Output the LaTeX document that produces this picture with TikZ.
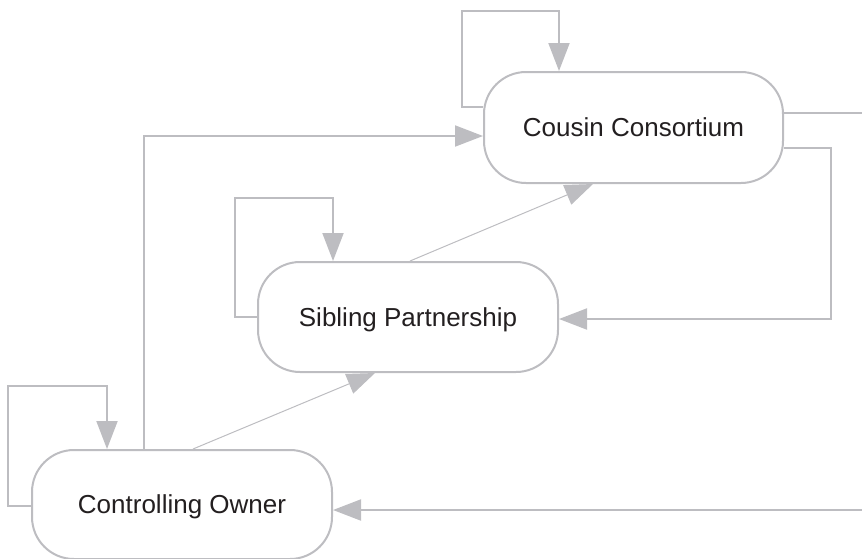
\documentclass[tikz,border=0pt]{standalone}
\usepackage{fontspec}
\setmainfont{Liberation Sans}
\usetikzlibrary{arrows.meta}
\definecolor{edgegray}{RGB}{189,189,193}
\definecolor{inkdark}{RGB}{35,31,32}
\tikzset{
  stagebox/.style={draw=edgegray, line width=2pt, rounded corners=42pt,
    fill=white, inner sep=0pt, text=inkdark,
    text height=18.6pt, text depth=0pt,
    font=\fontsize{26}{31}\selectfont},
  conn/.style={draw=edgegray, line width=2pt,
    -{Triangle[length=28pt,width=21pt]}},
  plainconn/.style={draw=edgegray, line width=2pt},
  thinconn/.style={draw=edgegray, line width=1pt,
    -{Triangle[length=28pt,width=21pt]}}
}
\begin{document}
\begin{tikzpicture}[x=1pt, y=-1pt]
  \useasboundingbox (0,0) rectangle (862,558);

  % stages
  \node[stagebox, minimum width=299pt, minimum height=111pt] (cc) at (633.5,127.5) {Cousin Consortium};
  \node[stagebox, minimum width=300pt, minimum height=110pt] (sp) at (408,317) {Sibling Partnership};
  \node[stagebox, minimum width=300pt, minimum height=109pt] (co) at (182,504.5) {Controlling Owner};

  % loops back into the same stage
  \draw[conn] (cc.west |- 0,107) -- (462,107) -- (462,11) -- (559,11) -- (cc.north -| 559,0);
  \draw[conn] (sp.west |- 0,317) -- (235,317) -- (235,198) -- (333,198) -- (sp.north -| 333,0);
  \draw[conn] (co.west |- 0,506) -- (8,506) -- (8,386) -- (107,386) -- (co.north -| 107,0);

  % moves between stages
  \draw[conn] (co.north -| 144,0) -- (144,136) -- (cc.west |- 0,136);
  \draw[thinconn] (co.north -| 193,0) -- (sp.south -| 375,0);
  \draw[thinconn] (sp.north -| 410,0) -- (cc.south -| 593,0);
  \draw[conn] (cc.east |- 0,148) -- (831,148) -- (831,319) -- (sp.east |- 0,319);

  % lines running off the right side
  \coordinate (outR) at (862,113);
  \coordinate (inR) at (862,510);
  \draw[plainconn] (cc.east |- 0,113) -- (outR);
  \draw[conn] (inR) -- (co.east |- 0,510);
\end{tikzpicture}
\end{document}
